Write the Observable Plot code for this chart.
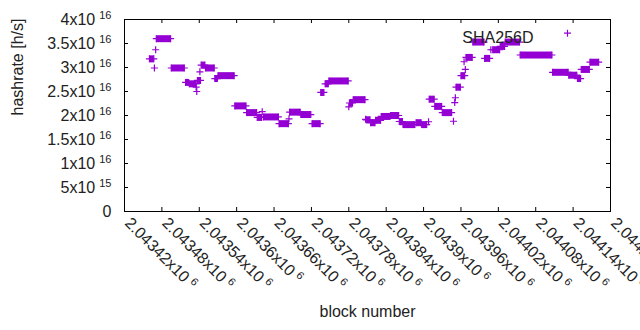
<!DOCTYPE html>
<html><head><meta charset="utf-8">
<script src="https://cdn.jsdelivr.net/npm/d3@7"></script>
<script src="https://cdn.jsdelivr.net/npm/@observablehq/plot@0.6"></script>
<style>body{margin:0;background:#fff;} #chart svg{display:block;}</style>
</head><body><div id="chart"></div>
<script>
// Runs of blocks with (nearly) the same estimated hashrate; single points have start === end
const runStart = [2043460,2043468,2043470,2043471,2043495,2043518,2043524,2043535,2043536,2043537,2043541,2043543,2043550,2043565,2043570,2043597,2043616,2043633,2043641,2043643,2043668,2043684,2043685,2043703,2043721,2043735,2043742,2043748,2043780,2043781,2043787,2043807,2043808,2043815,2043823,2043832,2043847,2043861,2043867,2043888,2043897,2043908,2043909,2043918,2043930,2043948,2043950,2043951,2043952,2043960,2043965,2043967,2043968,2043979,2043998,2044008,2044011,2044023,2044031,2044055,2044107,2044133,2044147,2044153,2044167];
const runEnd   = [2043467,2043468,2043470,2043494,2043516,2043523,2043535,2043535,2043536,2043542,2043541,2043549,2043564,2043569,2043596,2043615,2043632,2043640,2043641,2043667,2043683,2043684,2043702,2043719,2043734,2043740,2043747,2043779,2043780,2043786,2043806,2043807,2043814,2043822,2043831,2043846,2043860,2043866,2043886,2043896,2043905,2043908,2043917,2043929,2043945,2043948,2043950,2043951,2043959,2043966,2043965,2043967,2043978,2043997,2044006,2044008,2044022,2044030,2044054,2044106,2044132,2044146,2044152,2044166,2044181];
const runValue = [3.18e16,2.99e16,3.37e16,3.60e16,2.99e16,2.69e16,2.66e16,2.59e16,2.50e16,2.73e16,2.91e16,3.05e16,2.99e16,2.77e16,2.83e16,2.20e16,2.06e16,1.96e16,2.08e16,1.97e16,1.83e16,1.93e16,2.07e16,2.02e16,1.83e16,2.48e16,2.66e16,2.72e16,2.18e16,2.26e16,2.33e16,1.92e16,1.91e16,1.85e16,1.90e16,1.98e16,2.00e16,1.875e16,1.81e16,1.85e16,1.81e16,1.87e16,2.34e16,2.19e16,2.06e16,1.88e16,2.27e16,2.37e16,2.59e16,2.83e16,3.12e16,2.96e16,3.21e16,3.53e16,3.19e16,3.37e16,3.37e16,3.44e16,3.53e16,3.26e16,2.90e16,2.84e16,2.77e16,2.96e16,3.11e16];

const xTickValues = [2043420,2043480,2043540,2043600,2043660,2043720,2043780,2043840,2043900,2043960,2044020,2044080,2044140,2044200];
const xTickLabels = ["2.04342x10^6","2.04348x10^6","2.04354x10^6","2.0436x10^6","2.04366x10^6","2.04372x10^6","2.04378x10^6","2.04384x10^6","2.0439x10^6","2.04396x10^6","2.04402x10^6","2.04408x10^6","2.04414x10^6","2.0442x10^6"];
const yTickValues = [0,5e15,1e16,1.5e16,2e16,2.5e16,3e16,3.5e16,4e16];
const yTickLabels = ["0","5x10^15","1x10^16","1.5x10^16","2x10^16","2.5x10^16","3x10^16","3.5x10^16","4x10^16"];
const xDomain = [2043420, 2044200];
const yDomain = [0, 4e16];
const seriesName = "SHA256D";
const xLabel = "block number";
const yLabel = "hashrate [h/s]";

const color = "#9400d3";
const font = "'Liberation Sans', Arial, sans-serif";
const W = 640, H = 330, mL = 124, mR = 30, mT = 19, mB = 119;
const plotW = W - mL - mR, plotH = H - mT - mB;

const runs = runStart.map((s, i) => ({start: s, end: runEnd[i], value: runValue[i]}));
const ends = runs.flatMap(d => d.start === d.end ? [{b: d.start, v: d.value}] : [{b: d.start, v: d.value}, {b: d.end, v: d.value}]);

const plusSymbol = {
  draw(ctx, size) {
    const r = Math.sqrt(size / Math.PI);
    ctx.moveTo(-r, 0); ctx.lineTo(r, 0);
    ctx.moveTo(0, -r); ctx.lineTo(0, r);
  }
};

const chart = Plot.plot({
  width: W, height: H,
  marginLeft: mL, marginRight: mR, marginTop: mT, marginBottom: mB,
  style: {fontFamily: font, background: "white", overflow: "visible"},
  x: {domain: xDomain, axis: null},
  y: {domain: yDomain, axis: null},
  marks: [
    // ticks (inward, mirrored)
    Plot.ruleX(xTickValues, {x: d => d, insetTop: plotH - 4, stroke: "black"}),
    Plot.ruleX(xTickValues, {x: d => d, insetBottom: plotH - 4, stroke: "black"}),
    Plot.ruleY(yTickValues, {y: d => d, insetRight: plotW - 4, stroke: "black"}),
    Plot.ruleY(yTickValues, {y: d => d, insetLeft: plotW - 4, stroke: "black"}),
    // runs of dense + markers
    Plot.link(runs.filter(d => d.end > d.start), {x1: "start", x2: "end", y1: "value", y2: "value", stroke: color, strokeWidth: 7, strokeLinecap: "butt"}),
    Plot.dot(ends, {x: "b", y: "v", symbol: plusSymbol, r: 3.5, fill: "none", stroke: color, strokeWidth: 1.2}),
    // tick labels
    Plot.text(yTickValues, {y: d => d, frameAnchor: "left", text: (d, i) => yTickLabels[i], textAnchor: "end", dx: -13, fontSize: 16, fill: "#222"}),
    Plot.text(xTickValues, {x: d => d, frameAnchor: "bottom", text: (d, i) => xTickLabels[i], rotate: 45, textAnchor: "start", lineAnchor: "middle", dx: 3, dy: 9, fontSize: 16, fill: "#222"}),
    // axis titles
    Plot.text([xLabel], {frameAnchor: "bottom", dy: 105, fontSize: 16, fill: "#222"}),
    Plot.text([yLabel], {frameAnchor: "left", dx: -107, rotate: -90, fontSize: 16, fill: "#222"}),
    // key
    Plot.text([seriesName], {frameAnchor: "top-right", dx: -77, dy: 12.5, textAnchor: "end", fontSize: 16, fill: "#222"}),
    Plot.dot([0], {x: () => xDomain[1], y: () => yDomain[1], dx: -43, dy: 13.7, symbol: plusSymbol, r: 3.5, fill: "none", stroke: color, strokeWidth: 1.2}),
    Plot.frame({stroke: "black"})
  ]
});

// superscripts for "a x10^b" labels
chart.querySelectorAll("text").forEach(t => {
  const s = t.textContent;
  if (s.includes("^")) {
    const [base, exp] = s.split("^");
    t.textContent = base;
    const ts = document.createElementNS("http://www.w3.org/2000/svg", "tspan");
    ts.setAttribute("dx", "4");
    ts.setAttribute("dy", "-5.5");
    ts.setAttribute("font-size", "11");
    ts.textContent = exp;
    t.appendChild(ts);
  }
});
document.getElementById("chart").appendChild(chart);
</script>
</body></html>
